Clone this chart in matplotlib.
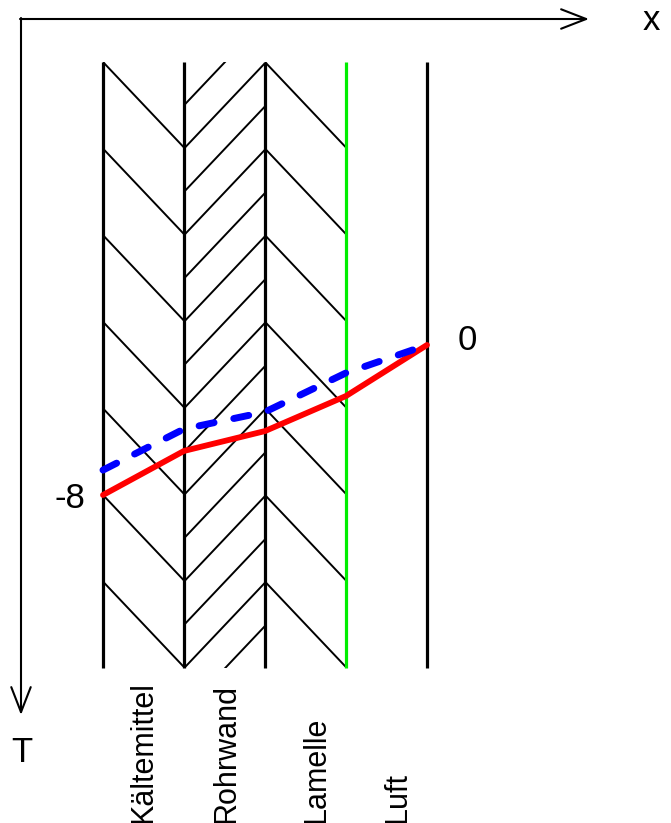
import matplotlib
matplotlib.use("Agg")
import matplotlib.pyplot as plt
from matplotlib.collections import LineCollection
from matplotlib.patches import Rectangle

plt.rcParams["font.family"] = ["Liberation Sans", "DejaVu Sans"]

# layers and temperatures
layer_names = ["Kältemittel", "Rohrwand", "Lamelle", "Luft"]
boundaries = [0, 1, 2, 3, 4]
boundary_colors = ["black", "black", "black", "#00ee00", "black"]
temp_red = [-8, -5.65, -4.59, -2.72, 0]
temp_blue = [-6.67, -4.48, -3.57, -1.49, 0]
end_labels = ["-8", "0"]

# layout (pixel scale of the schematic)
W, H = 671, 823
X0_PX, PX_X = 103, 81.0
T0_PX, PX_T = 345, 18.75
T_TOP = (T0_PX - 62) / PX_T
T_BOT = (T0_PX - 668) / PX_T
PERIOD = 86.6 / PX_T
RISE = 85.5 / PX_T
LABEL_X = [0.5, 1.53, 2.64, 3.63]

fig = plt.figure(figsize=(W / 100, H / 100), dpi=100)
ax = fig.add_axes([0, 0, 1, 1])
ax.set_xlim(-X0_PX / PX_X, (W - X0_PX) / PX_X)
ax.set_ylim((T0_PX - H) / PX_T, T0_PX / PX_T)
ax.axis("off")


def hatch(x_left, segs, bottom):
    lc = LineCollection(segs, colors="black", linewidths=1.4)
    ax.add_collection(lc)
    clip = Rectangle((x_left, bottom), 1, T_TOP - bottom, transform=ax.transData,
                     facecolor="none", edgecolor="none")
    ax.add_patch(clip)
    lc.set_clip_path(clip)


down = [[(0, T_TOP - k * PERIOD), (1, T_TOP - k * PERIOD - RISE)] for k in range(7)]
hatch(0, down, T_BOT)
up = [[(1, T_TOP - k * PERIOD / 2), (2, T_TOP - k * PERIOD / 2 + RISE)] for k in range(1, 16)]
hatch(1, up, T_BOT)
down3 = [[(2, T_TOP - k * PERIOD), (3, T_TOP - k * PERIOD - RISE)] for k in range(7)]
hatch(2, down3, T_BOT)

ax.vlines(boundaries, T_BOT, T_TOP, colors=boundary_colors, linewidth=2.3)

ax.plot(boundaries, temp_red, color="red", linewidth=4.2, solid_capstyle="round",
        solid_joinstyle="round")
blue, = ax.plot(boundaries, temp_blue, color="blue", linewidth=5,
                dash_capstyle="round")
blue.set_dashes((2.2, 2.9))

ax.annotate(end_labels[0], xy=(boundaries[0], temp_red[0]), xytext=(-18, -4),
            textcoords="offset pixels", ha="right", va="center", fontsize=25)
ax.annotate(end_labels[1], xy=(boundaries[-1], temp_red[-1]), xytext=(31, 4),
            textcoords="offset pixels", ha="left", va="center", fontsize=25)

for name, lx in zip(layer_names, LABEL_X):
    ax.text(lx, (T0_PX - H) / PX_T, name, rotation=90, ha="center", va="bottom",
            fontsize=22)

# coordinate arrows
arrow = dict(arrowstyle="->,head_length=1.8,head_width=0.7", lw=1.5,
             mutation_scale=10, shrinkA=0, shrinkB=0, color="black")
ax.annotate("", xy=(589, H - 19), xytext=(20, H - 19), xycoords="figure pixels",
            textcoords="figure pixels", arrowprops=arrow)
ax.annotate("", xy=(21, H - 715), xytext=(21, H - 18), xycoords="figure pixels",
            textcoords="figure pixels", arrowprops=arrow)
fig.text(651 / W, 1 - 21 / H, "x", ha="center", va="center", fontsize=25)
fig.text(22 / W, 1 - 752 / H, "T", ha="center", va="center", fontsize=25)

fig.savefig("out.png", dpi=100)
